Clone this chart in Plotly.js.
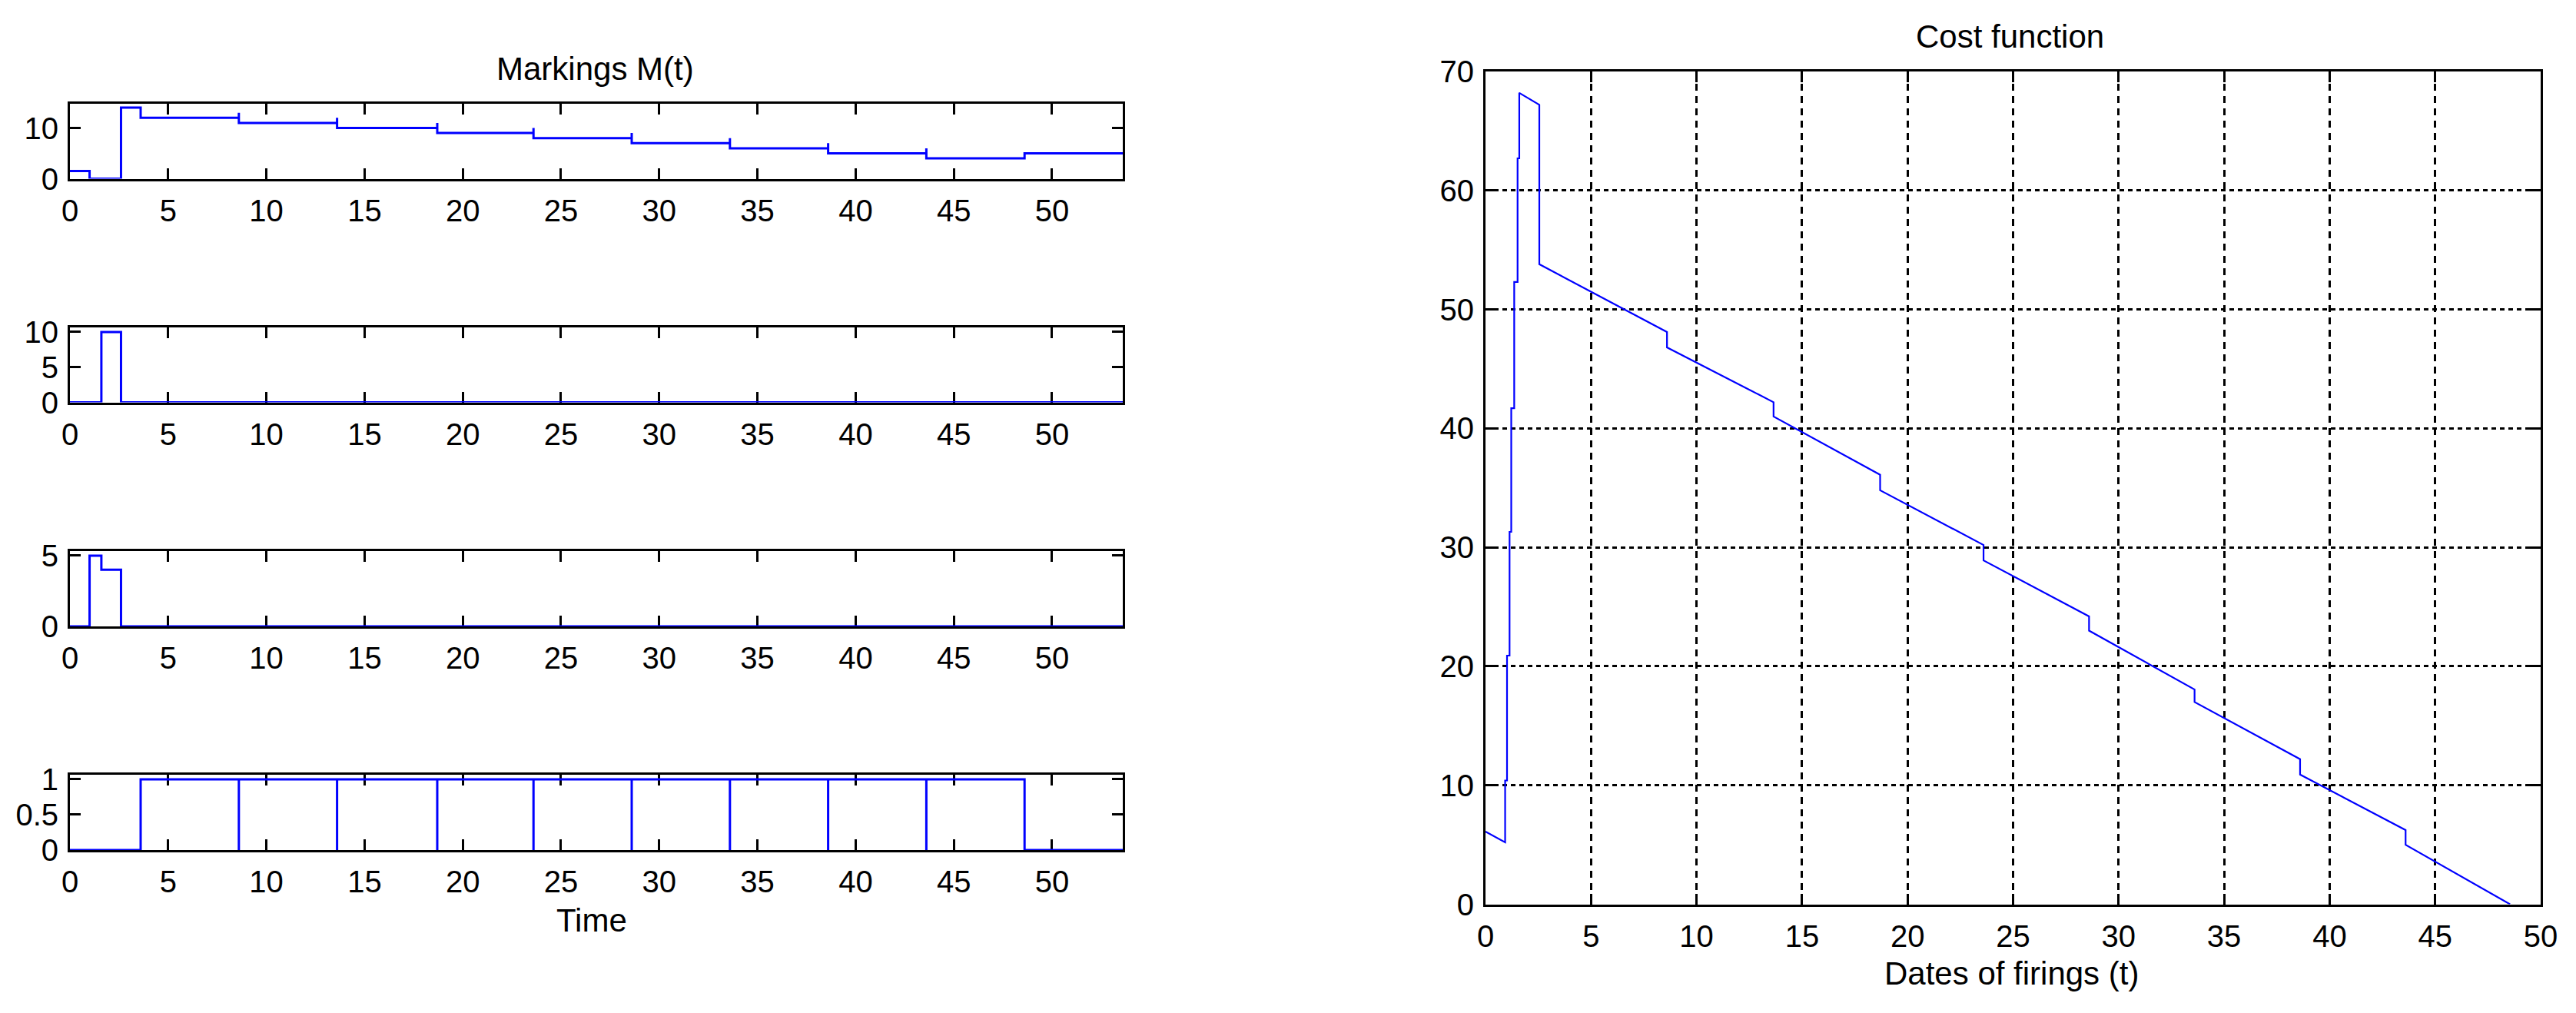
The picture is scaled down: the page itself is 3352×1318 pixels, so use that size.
<!DOCTYPE html>
<html>
<head>
<meta charset="utf-8">
<script src="https://cdn.plot.ly/plotly-3.0.1.min.js"></script>
<style>
  html, body { margin: 0; padding: 0; background: #ffffff; }
  #chart { width: 3352px; height: 1318px; }
</style>
</head>
<body>
<div id="chart"></div>
<script>
// ---------- data ----------
// Markings M(t): four places, stair plots over time
const t1 = [0, 1.0, 2.6, 3.6, 8.6, 8.6, 13.6, 13.6, 18.7, 18.7, 23.6, 23.6, 28.6, 28.6, 33.6, 33.6, 38.6, 38.6, 43.6, 43.6, 48.6, 53.6];
const m1 = [1.5, 0, 14, 12, 13, 11, 12, 10, 11, 9, 10, 8, 9, 7, 8, 6, 7, 5, 6, 4, 5, 5];

const t2 = [0, 1.6, 2.6, 53.6];
const m2 = [0, 10, 0, 0];

const t3 = [0, 1.0, 1.6, 2.6, 53.6];
const m3 = [0, 5, 4, 0, 0];

const t4 = [0, 3.6, 8.6, 8.6, 13.6, 13.6, 18.7, 18.7, 23.6, 23.6, 28.6, 28.6, 33.6, 33.6, 38.6, 38.6, 43.6, 43.6, 48.6, 53.6];
const m4 = [0, 1, 0, 1, 0, 1, 0, 1, 0, 1, 0, 1, 0, 1, 0, 1, 0, 1, 0, 0];

// Cost function versus dates of firings
const costT = [0, 0.93, 0.93, 1.02, 1.02, 1.14, 1.14, 1.22, 1.22, 1.36, 1.36, 1.52, 1.52, 1.6, 1.6, 2.55, 2.55, 8.6, 8.6, 13.65, 13.65, 18.7, 18.7, 23.6, 23.6, 28.6, 28.6, 33.6, 33.6, 38.6, 38.6, 43.6, 43.6, 48.55];
const costV = [6.1, 5.2, 10.4, 10.4, 20.9, 20.9, 31.3, 31.3, 41.7, 41.7, 52.3, 52.3, 62.7, 62.7, 68.2, 67.2, 53.8, 48.1, 46.8, 42.2, 41.0, 36.1, 34.8, 30.2, 28.9, 24.2, 23.0, 18.05, 17.0, 12.2, 10.9, 6.24, 5.0, 0];

// tick labels
const leftXTicks = [0, 5, 10, 15, 20, 25, 30, 35, 40, 45, 50];
const yTicks1 = [0, 10];
const yTicks2 = [0, 5, 10];
const yTicks3 = [0, 5];
const yTicks4 = [0, 0.5, 1];
const costXTicks = [0, 5, 10, 15, 20, 25, 30, 35, 40, 45, 50];
const costYTicks = [0, 10, 20, 30, 40, 50, 60, 70];

const titleMarkings = 'Markings M(t)';
const labelTime = 'Time';
const titleCost = 'Cost function';
const labelDates = 'Dates of firings (t)';

// ---------- layout helpers ----------
const W = 3352, H = 1318;
const px = v => v / W;
const py = v => 1 - v / H;

const FONT = 'Liberation Sans, Arial, Helvetica, sans-serif';
const BLUE = '#0000ff';

function baseAxis(extra) {
  return Object.assign({
    showline: true, linecolor: '#000', linewidth: 3,
    mirror: 'ticks',
    ticks: 'inside', ticklen: 14, tickwidth: 3, tickcolor: '#000',
    showgrid: false, zeroline: false,
    tickfont: { family: FONT, size: 40, color: '#000' },
    fixedrange: true,
    layer: 'below traces'
  }, extra);
}

const leftDomX = [px(91), px(1461)];
const rows = [[134.5, 232.5], [426, 523.5], [717, 815], [1008, 1106]];
const yRanges = [[0, 14.85], [0, 10.65], [0, 5.32], [0, 1.065]];
const yTickSets = [yTicks1, yTicks2, yTicks3, yTicks4];

const layout = {
  width: W, height: H,
  margin: { l: 0, r: 0, t: 0, b: 0 },
  paper_bgcolor: '#ffffff', plot_bgcolor: '#ffffff',
  showlegend: false,
  font: { family: FONT, color: '#000' },
  annotations: [
    { text: titleMarkings, xref: 'paper', yref: 'paper', x: px(774), y: py(89), xanchor: 'center', yanchor: 'middle', showarrow: false, font: { family: FONT, size: 42, color: '#000' } },
    { text: labelTime, xref: 'paper', yref: 'paper', x: px(770), y: py(1197), xanchor: 'center', yanchor: 'middle', showarrow: false, font: { family: FONT, size: 42, color: '#000' } },
    { text: titleCost, xref: 'paper', yref: 'paper', x: px(2615), y: py(48), xanchor: 'center', yanchor: 'middle', showarrow: false, font: { family: FONT, size: 42, color: '#000' } },
    { text: labelDates, xref: 'paper', yref: 'paper', x: px(2617), y: py(1266), xanchor: 'center', yanchor: 'middle', showarrow: false, font: { family: FONT, size: 42, color: '#000' } }
  ]
};

for (let i = 0; i < 4; i++) {
  const n = i + 1;
  layout['xaxis' + n] = baseAxis({
    domain: leftDomX, anchor: 'y' + n,
    range: [0, 53.6], tickmode: 'array', tickvals: leftXTicks,
    ticklabelstandoff: 4
  });
  layout['yaxis' + n] = baseAxis({
    domain: [py(rows[i][1]), py(rows[i][0])], anchor: 'x' + n,
    range: yRanges[i], tickmode: 'array', tickvals: yTickSets[i],
    ticklabelstandoff: 4
  });
}

layout.xaxis5 = baseAxis({
  domain: [px(1933), px(3306)], anchor: 'y5',
  range: [0, 50], tickmode: 'array', tickvals: costXTicks,
  showgrid: true, gridcolor: '#000', gridwidth: 3, griddash: '9px,7px',
  ticklabelstandoff: 4
});
layout.yaxis5 = baseAxis({
  domain: [py(1176.5), py(93)], anchor: 'x5',
  range: [0, 70], tickmode: 'array', tickvals: costYTicks,
  showgrid: true, gridcolor: '#000', gridwidth: 3, griddash: '6px,5px',
  ticklabelstandoff: 4
});

const series = [[t1, m1], [t2, m2], [t3, m3], [t4, m4]];
const data = series.map((s, i) => ({
  type: 'scatter', mode: 'lines',
  x: s[0], y: s[1],
  xaxis: 'x' + (i + 1), yaxis: 'y' + (i + 1),
  line: { color: BLUE, width: 3, shape: 'hv' },
  hoverinfo: 'skip'
}));
data.push({
  type: 'scatter', mode: 'lines',
  x: costT, y: costV,
  xaxis: 'x5', yaxis: 'y5',
  line: { color: BLUE, width: 2.2 },
  hoverinfo: 'skip'
});

Plotly.newPlot('chart', data, layout, { displayModeBar: false, staticPlot: true });
</script>
</body>
</html>
